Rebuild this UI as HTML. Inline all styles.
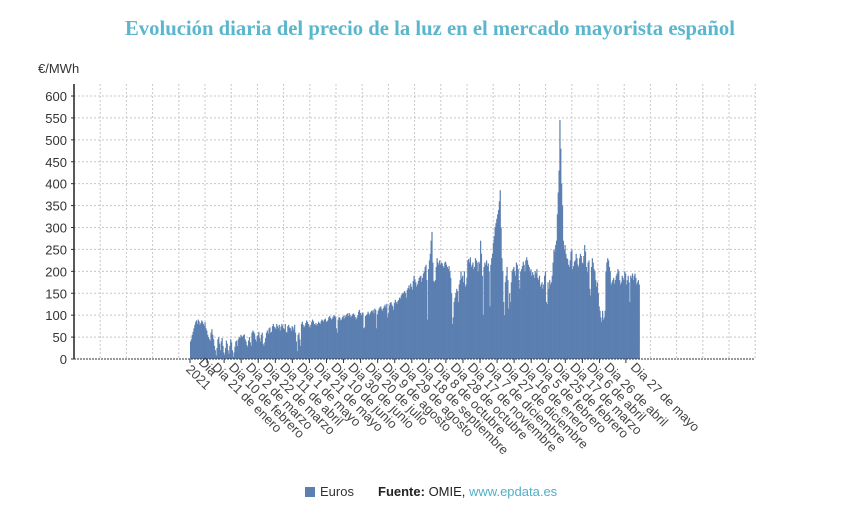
<!DOCTYPE html>
<html><head><meta charset="utf-8"><style>
body{margin:0;width:844px;height:509px;background:#fff;overflow:hidden;font-family:"Liberation Sans",sans-serif}
</style></head><body>
<svg id="chart" width="844" height="509" xmlns="http://www.w3.org/2000/svg">
<text x="125" y="35" textLength="610" lengthAdjust="spacingAndGlyphs" font-family="Liberation Serif, serif" font-weight="bold" font-size="21" fill="#5ab6cd">Evolución diaria del precio de la luz en el mercado mayorista español</text>
<text x="38" y="73" font-size="13" fill="#333">€/MWh</text>
<g id="grid"></g>
<g id="bars"></g>
<g id="axes"></g>
<g>
<rect x="305" y="487" width="10" height="10" fill="#5b7fb0"/>
<text x="320" y="496" font-size="13" fill="#333">Euros</text>
<text x="378" y="496" font-size="13" fill="#222"><tspan font-weight="bold">Fuente:</tspan> OMIE, <tspan fill="#4fb0c8">www.epdata.es</tspan></text>
</g>
</svg>
<script>
const yTicks=[0,50,100,150,200,250,300,350,400,450,500,550,600];
const xTickLabels=[["Dia","2021"],["Dia 21 de enero"],["Dia 10 de febrero"],["Dia 2 de marzo"],["Dia 22 de marzo"],["Dia 11 de abril"],["Dia 1 de mayo"],["Dia 21 de mayo"],["Dia 10 de junio"],["Dia 30 de junio"],["Dia 20 de julio"],["Dia 9 de agosto"],["Dia 29 de agosto"],["Dia 18 de septiembre"],["Dia 8 de octubre"],["Dia 28 de octubre"],["Dia 17 de noviembre"],["Dia 7 de diciembre"],["Dia 27 de diciembre"],["Dia 16 de enero"],["Dia 5 de febrero"],["Dia 25 de febrero"],["Dia 17 de marzo"],["Dia 6 de abril"],["Dia 26 de abril"],["Dia 27 de mayo"]];
const xTickDays=[0,20,40,60,80,100,120,140,160,180,200,220,240,260,280,300,320,340,360,380,400,420,440,460,480,511];
const prices=[40,45,55,62,70,78,85,88,80,90,86,78,82,88,85,80,76,84,70,65,
55,50,45,42,60,68,55,45,30,20,8,
25,45,50,35,20,40,48,30,15,10,25,42,35,20,12,30,45,38,20,5,15,28,40,42,30,45,50,48,
55,52,50,54,56,45,40,32,28,42,50,38,30,60,65,62,58,45,40,52,55,62,48,40,55,60,35,30,38,48,60,
65,58,70,72,60,62,75,80,74,72,68,80,75,70,78,65,74,80,76,70,68,80,62,60,75,78,72,70,64,75,
72,66,78,60,40,18,55,60,45,30,80,85,78,72,76,82,88,85,80,75,72,78,85,90,86,80,78,82,76,80,85,
82,80,86,90,88,85,90,92,85,86,88,95,98,94,90,92,96,100,98,95,70,60,90,96,94,88,90,95,98,92,
100,96,102,104,98,105,100,95,98,102,104,100,96,90,94,100,108,112,105,100,104,106,70,72,98,100,102,108,104,100,106,
110,108,112,104,115,112,70,102,110,115,118,120,114,110,116,120,124,118,126,95,104,122,128,130,124,120,112,128,135,130,126,
132,135,140,138,145,150,148,152,155,150,140,158,162,168,160,172,165,158,178,190,182,175,165,170,178,185,188,190,176,185,
195,200,210,215,180,90,205,225,240,270,290,220,178,175,180,210,230,220,215,225,215,220,218,212,208,220,222,215,210,205,212,
200,185,150,80,95,130,140,150,160,155,130,170,180,200,185,190,175,200,165,170,185,225,228,220,232,210,215,220,205,210,
230,225,220,200,222,218,270,240,190,100,210,220,215,225,212,218,200,120,215,230,240,265,280,300,310,320,330,340,360,385,
300,230,200,130,100,175,190,210,180,115,150,130,175,200,205,210,200,190,220,215,205,180,160,200,205,212,222,215,200,225,232,
225,215,210,200,205,190,198,192,185,200,195,205,185,180,190,165,170,175,160,170,190,200,130,125,175,160,180,170,
175,190,220,250,245,260,270,330,380,430,545,480,400,350,270,250,260,240,230,228,215,210,225,245,250,205,212,222,225,240,230,
215,210,230,240,235,220,218,235,260,245,210,198,220,225,160,145,210,230,220,205,200,180,165,175,150,120,110,95,85,110,
90,95,110,200,220,230,225,210,200,170,175,180,185,172,180,190,195,205,200,180,170,175,190,185,180,200,195,170,180,190,175,
130,190,185,195,180,190,195,185,170,175,180,170];

const NS="http://www.w3.org/2000/svg";
const X0=190,DAY=0.853,Y0=359,PXU=263/600,LEFT=74,RIGHT=755,TOP=84;
const xs=d=>X0+d*DAY;
const ys=v=>Y0-v*PXU;
function mk(tag,attrs,parent){const e=document.createElementNS(NS,tag);for(const k in attrs)e.setAttribute(k,attrs[k]);parent.appendChild(e);return e;}
const grid=document.getElementById('grid'),bars=document.getElementById('bars'),axes=document.getElementById('axes');
yTicks.forEach(v=>{
 if(v>0){const l=mk('line',{x1:LEFT,x2:RIGHT,y1:ys(v),y2:ys(v),stroke:'#c8c8c8','stroke-dasharray':'2,2'},grid);
 
 }
 const t=mk('text',{x:67,y:ys(v)+5,'text-anchor':'end','font-size':'13',fill:'#333'},axes);t.textContent=v;
 
 
 mk('line',{x1:LEFT-3,x2:LEFT,y1:ys(v),y2:ys(v),stroke:'#333'},axes);
});
for(let k=1;k<=26;k++){const x=LEFT+k*26.2;
 const l=mk('line',{x1:x,x2:x,y1:TOP,y2:Y0,stroke:'#c8c8c8','stroke-dasharray':'2,2'},grid);
 
 }
prices.forEach((v,i)=>{
 const r=mk('rect',{x:xs(i),y:ys(v),width:DAY+0.35,height:v*PXU,fill:'#5b7fb0'},bars);
 
 
});
mk('line',{x1:LEFT,x2:LEFT,y1:TOP,y2:Y0,stroke:'#222','stroke-width':1.5},axes);
const xa=mk('line',{x1:LEFT,x2:RIGHT,y1:Y0,y2:Y0,stroke:'#333','stroke-dasharray':'2,1'},axes);


xTickLabels.forEach((lab,i)=>{
 const x=xs(xTickDays[i]);
 mk('line',{x1:x,x2:x,y1:Y0,y2:Y0+4,stroke:'#333'},axes);
 const t=mk('text',{transform:`translate(${x+4},${Y0+9}) rotate(45)`,'font-size':'13',fill:'#444'},axes);
 
 
 lab.forEach((s,j)=>{const ts=mk('tspan',{x:j?-4:0,dy:j?14:0},t);ts.textContent=s;});
 if(lab.length>1){t.setAttribute('transform',`translate(${x+8},${Y0+4}) rotate(45)`);}
});
</script>
</body></html>
